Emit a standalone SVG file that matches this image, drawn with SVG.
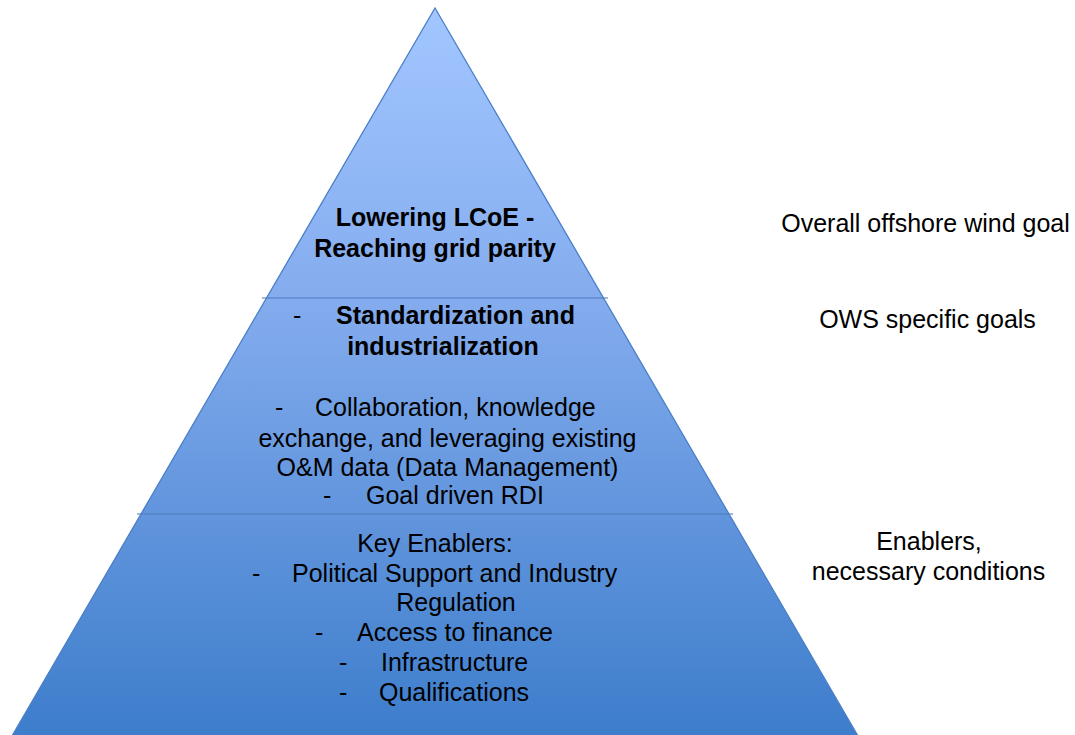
<svg xmlns="http://www.w3.org/2000/svg" width="1075" height="735" viewBox="0 0 1075 735">
<defs>
<linearGradient id="g" x1="0" y1="8" x2="0" y2="735" gradientUnits="userSpaceOnUse">
<stop offset="0" stop-color="#a2c6ff"/>
<stop offset="0.4" stop-color="#84acee"/>
<stop offset="1" stop-color="#3d7dcb"/>
</linearGradient>
</defs>
<style>
text{font-family:"Liberation Sans",Arial,sans-serif;font-size:25px;fill:#000}
.b{font-weight:bold}
.m{text-anchor:middle}
.div{stroke:#4f7fbf;stroke-width:1.3;stroke-opacity:0.7}
</style>
<g id="pyramid">
<polygon points="435,8 858,736 12,736" fill="url(#g)" stroke="#4a7fc8" stroke-width="1.3"/>
<line class="div" x1="262" y1="298" x2="608" y2="298"/>
<line class="div" x1="137" y1="514" x2="733" y2="514"/>
</g>
<g id="top-tier">
<text class="b m" x="435" y="226">Lowering LCoE -</text>
<text class="b m" x="435" y="257">Reaching grid parity</text>
</g>
<g id="middle-tier">
<text x="293" y="324">-</text>
<text class="b" x="336" y="324">Standardization and</text>
<text class="b m" x="443" y="355">industrialization</text>
<text x="275" y="416">-</text>
<text x="315" y="416">Collaboration, knowledge</text>
<text class="m" x="447.5" y="447">exchange, and leveraging existing</text>
<text class="m" x="447.5" y="476">O&amp;M data (Data Management)</text>
<text x="323" y="504">-</text>
<text x="366" y="504">Goal driven RDI</text>
</g>
<g id="bottom-tier">
<text class="m" x="435" y="552">Key Enablers:</text>
<text x="252" y="582">-</text>
<text x="292" y="582">Political Support and Industry</text>
<text class="m" x="456" y="611">Regulation</text>
<text x="315" y="641">-</text>
<text x="357" y="641">Access to finance</text>
<text x="339" y="671">-</text>
<text x="381" y="671">Infrastructure</text>
<text x="339" y="701">-</text>
<text x="379" y="701">Qualifications</text>
</g>
<g id="labels">
<text class="m" x="925.5" y="232">Overall offshore wind goal</text>
<text class="m" x="927.5" y="328">OWS specific goals</text>
<text class="m" x="929" y="550">Enablers,</text>
<text class="m" x="928.5" y="580">necessary conditions</text>
</g>
</svg>
